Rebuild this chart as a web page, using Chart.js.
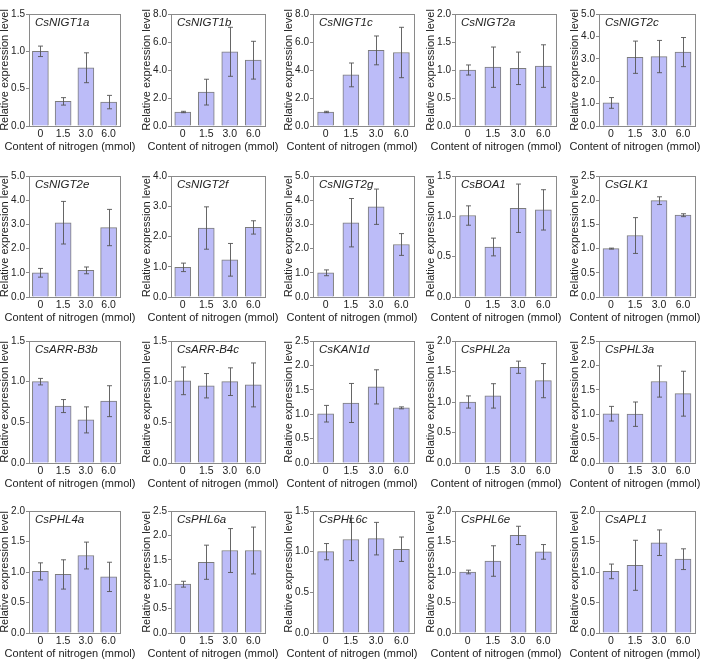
<!DOCTYPE html>
<html><head><meta charset="utf-8">
<script src="https://cdn.jsdelivr.net/npm/chart.js@4.4.1/dist/chart.umd.min.js"></script>
<style>
html,body{margin:0;padding:0;background:#fff;width:708px;height:661px;overflow:hidden}
#wrap{position:relative;width:708px;height:661px;overflow:hidden}
canvas{position:absolute}
</style></head><body><div id="wrap"></div>
<script>
// ---- data ----
const categories = ['0', '1.5', '3.0', '6.0'];
const genes = ['CsNIGT1a','CsNIGT1b','CsNIGT1c','CsNIGT2a','CsNIGT2c',
               'CsNIGT2e','CsNIGT2f','CsNIGT2g','CsBOA1','CsGLK1',
               'CsARR-B3b','CsARR-B4c','CsKAN1d','CsPHL2a','CsPHL3a',
               'CsPHL4a','CsPHL6a','CsPHL6c','CsPHL6e','CsAPL1'];
const yMax  = [1.5, 8, 8, 2, 5,   5, 4, 5, 1.5, 2.5,   1.5, 1.5, 2.5, 2, 2.5,   2, 2.5, 1.5, 2, 2];
const yStep = [0.5, 2, 2, 0.5, 1, 1, 1, 1, 0.5, 0.5,   0.5, 0.5, 0.5, 0.5, 0.5, 0.5, 0.5, 0.5, 0.5, 0.5];
const means = [
  [1.00, 0.33, 0.78, 0.32],
  [1.00, 2.42, 5.30, 4.70],
  [1.00, 3.65, 5.40, 5.25],
  [1.00, 1.05, 1.03, 1.07],
  [1.03, 3.07, 3.10, 3.30],
  [1.00, 3.07, 1.10, 2.87],
  [0.98, 2.28, 1.23, 2.30],
  [1.00, 3.07, 3.73, 2.17],
  [1.01, 0.62, 1.10, 1.08],
  [1.00, 1.27, 1.99, 1.69],
  [1.00, 0.70, 0.53, 0.76],
  [1.01, 0.95, 1.00, 0.96],
  [1.01, 1.23, 1.56, 1.13],
  [1.00, 1.10, 1.57, 1.35],
  [1.01, 1.00, 1.67, 1.42],
  [1.01, 0.96, 1.27, 0.92],
  [1.00, 1.45, 1.69, 1.69],
  [1.00, 1.15, 1.16, 1.03],
  [1.00, 1.18, 1.60, 1.33],
  [1.01, 1.11, 1.48, 1.21]
];
const errs = [
  [0.07, 0.05, 0.20, 0.09],
  [0.05, 0.92, 1.75, 1.35],
  [0.05, 0.85, 1.03, 1.80],
  [0.09, 0.36, 0.29, 0.38],
  [0.24, 0.72, 0.72, 0.65],
  [0.18, 0.88, 0.14, 0.75],
  [0.14, 0.70, 0.54, 0.22],
  [0.12, 1.00, 0.73, 0.45],
  [0.12, 0.11, 0.30, 0.25],
  [0.01, 0.37, 0.08, 0.03],
  [0.04, 0.08, 0.16, 0.19],
  [0.17, 0.15, 0.17, 0.27],
  [0.17, 0.40, 0.35, 0.02],
  [0.10, 0.20, 0.10, 0.28],
  [0.15, 0.25, 0.32, 0.46],
  [0.14, 0.24, 0.22, 0.24],
  [0.06, 0.35, 0.45, 0.48],
  [0.10, 0.26, 0.20, 0.15],
  [0.03, 0.25, 0.15, 0.12],
  [0.12, 0.41, 0.21, 0.17]
];
const xTitle = 'Content of nitrogen (mmol)';
const yTitle = 'Relative expression level';

// ---- layout (not data) ----
const FONT = "'Liberation Sans', Arial, sans-serif";
const plotLeft  = [29, 171, 313, 455, 599];
const plotRight = [120, 265, 414, 556, 695];
const xTitleX   = [70, 213, 352, 496, 635];
const yAxisW = 30;
const rightPad = 20;
const rowTop = [0, 165, 330, 495];
const plotTop = [14, 176, 341, 511];
const plotBottom = [126, 297, 463, 633];
const xAxisH = 28;

const errorBars = {
  id: 'errorBars',
  afterDatasetsDraw(chart, args, opts) {
    const ctx = chart.ctx, ys = chart.scales.y;
    const meta = chart.getDatasetMeta(0);
    const e = opts.errs;
    const d = chart.data.datasets[0].data;
    ctx.save();
    ctx.strokeStyle = '#555';
    ctx.lineWidth = 0.9;
    meta.data.forEach((el, i) => {
      const x = Math.round(el.x) + 0.5;
      const t = ys.getPixelForValue(d[i] + e[i]);
      const b = ys.getPixelForValue(d[i] - e[i]);
      ctx.beginPath();
      ctx.moveTo(x, t); ctx.lineTo(x, b);
      ctx.moveTo(x - 2.5, t); ctx.lineTo(x + 2.5, t);
      ctx.moveTo(x - 2.5, b); ctx.lineTo(x + 2.5, b);
      ctx.stroke();
    });
    ctx.restore();
  }
};
const frame = {
  id: 'frame',
  afterDraw(chart, args, opts) {
    const {ctx, chartArea: a} = chart;
    ctx.save();
    ctx.strokeStyle = '#8a8a8a';
    ctx.lineWidth = 1;
    ctx.strokeRect(Math.round(a.left) + 0.5, Math.round(a.top) + 0.5,
                   Math.round(a.right - a.left), Math.round(a.bottom - a.top));
    ctx.fillStyle = '#222';
    ctx.font = 'italic 11.5px ' + FONT;
    ctx.textBaseline = 'middle';
    ctx.textAlign = 'left';
    ctx.fillText(opts.label, a.left + 6, a.top + 9);
    // axis titles
    ctx.font = '11px ' + FONT;
    ctx.textAlign = 'center';
    ctx.fillText(xTitle, opts.titleX, a.bottom + 21);
    ctx.translate(a.left - 24, (a.top + a.bottom) / 2);
    ctx.rotate(-Math.PI / 2);
    ctx.fillText(yTitle, 0, 0);
    ctx.restore();
  }
};

const wrap = document.getElementById('wrap');
genes.forEach((g, k) => {
  const r = Math.floor(k / 5), c = k % 5;
  const cv = document.createElement('canvas');
  const h = plotBottom[r] - rowTop[r] + xAxisH;
  const left = plotLeft[c] - yAxisW;
  const w = plotRight[c] - plotLeft[c] + yAxisW + rightPad;
  cv.width = w; cv.height = h;
  cv.style.left = left + 'px';
  cv.style.top = rowTop[r] + 'px';
  cv.style.width = w + 'px';
  cv.style.height = h + 'px';
  wrap.appendChild(cv);
  new Chart(cv, {
    type: 'bar',
    data: {
      labels: categories,
      datasets: [{
        data: means[k],
        backgroundColor: '#bcbcf8',
        borderColor: '#7c7c7c',
        borderWidth: 1,
        barThickness: 16
      }]
    },
    options: {
      responsive: false,
      devicePixelRatio: 1,
      animation: false,
      layout: { padding: { top: plotTop[r] - rowTop[r], right: rightPad, left: 0, bottom: 0 } },
      plugins: {
        legend: { display: false },
        tooltip: { enabled: false },
        errorBars: { errs: errs[k] },
        frame: { label: g, titleX: xTitleX[c] - left }
      },
      scales: {
        x: {
          grid: { display: false, drawTicks: false },
          border: { display: false },
          ticks: { color: '#222', font: { family: FONT, size: 10.5 }, padding: 2, maxRotation: 0 },
          afterFit(s) { s.height = xAxisH; }
        },
        y: {
          min: 0, max: yMax[k],
          grid: { drawOnChartArea: false, drawTicks: true, tickLength: 3, color: '#8a8a8a' },
          border: { display: false },
          ticks: { stepSize: yStep[k], color: '#222', font: { family: FONT, size: 10 }, padding: 1,
                   callback: v => Number(v).toFixed(1) },
          afterFit(s) { s.width = yAxisW; }
        }
      }
    },
    plugins: [errorBars, frame]
  });
});
</script>
</body></html>
